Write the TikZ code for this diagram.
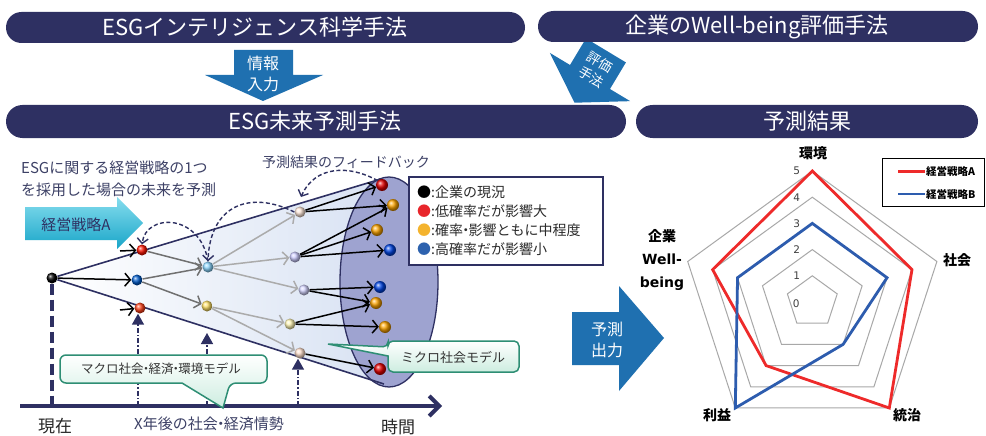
\documentclass[tikz,border=0pt]{standalone}
\usepackage{fontspec}
\setmainfont{Noto Sans CJK JP}
\newfontfamily\dejavu{DejaVu Sans}
\usetikzlibrary{arrows.meta}
\newcommand\fsz[2]{\fontsize{#1}{#2}\selectfont}
\newcommand\nakaten{\kern-.3em・\kern-.3em}
\definecolor{navy}{HTML}{2E3062}
\definecolor{arrblue}{HTML}{1F70B0}
\definecolor{txtnavy}{HTML}{3D4166}
\definecolor{ellfill}{HTML}{9EA3D0}
\definecolor{conefill}{HTML}{D8E2F3}
\definecolor{callgreen}{HTML}{2E8E74}
\definecolor{mint}{HTML}{CDEDE0}
\definecolor{cyantop}{HTML}{86DDEE}
\definecolor{cyanbot}{HTML}{18A5C8}
\definecolor{redA}{HTML}{EE2A2A}
\definecolor{blueB}{HTML}{2D5CAE}
\definecolor{gridgray}{HTML}{A8A8A8}
\definecolor{midgray}{HTML}{707070}
\definecolor{ltgray}{HTML}{ABABAB}
\definecolor{bred}{HTML}{E8262B}
\definecolor{byel}{HTML}{F4B32D}
\definecolor{bblue}{HTML}{2D62AE}
\definecolor{legtext}{HTML}{2A2A2A}
\begin{document}
\begin{tikzpicture}[x=1pt,y=-1pt,
  bar/.style={fill=navy, rounded corners=15.5pt, inner sep=0pt, minimum height=31pt},
  bartext/.style={text=white, font=\fsz{22}{26}, inner sep=0pt},
  arrtext/.style={text=white, font=\fsz{15}{16}, inner sep=0pt},
  ballnode/.style={circle, inner sep=0pt, minimum size=11pt, ball color=#1},
  bigball/.style={circle, inner sep=0pt, minimum size=12pt, ball color=#1},
  blk/.style={draw=black, line width=1.5pt, -{Straight Barb[length=5.5pt,width=13pt]}},
  dgr/.style={draw=midgray, line width=1.5pt, -{Straight Barb[length=5.5pt,width=13pt]}},
  lgr/.style={draw=ltgray, line width=1.5pt, -{Straight Barb[length=5.5pt,width=13pt]}},
  coneln/.style={draw=navy, line width=1.6pt},
  fb/.style={draw=navy, line width=1.4pt, dash pattern=on 4pt off 2.5pt, -{Straight Barb[length=5pt,width=11pt]}},
  axisln/.style={draw=navy, line width=4pt, -{Straight Barb[length=10pt,width=20pt]}},
  vdash/.style={draw=navy, line width=3.5pt, dash pattern=on 11pt off 5pt},
  uparr/.style={draw=navy, line width=1.5pt, dash pattern=on 5pt off 2pt on 1.5pt off 2pt, -{Triangle[length=11pt,width=12pt]}},
  callout/.style={draw=callgreen, line width=1.5pt, top color=white, bottom color=mint},
  gridline/.style={draw=gridgray, line width=1pt},
  radlab/.style={font=\bfseries\fsz{14}{16}, inner sep=0pt},
  ticklab/.style={font=\dejavu\fsz{10.5}{12}, text=black!75, inner sep=0pt}
]
\useasboundingbox (0,0) rectangle (986,436);
\fill[white] (0,0) rectangle (986,436);

% ---- rotated arrow (evaluation method)
\begin{scope}[shift={(590,77)}, rotate=-31]
  \fill[arrblue] (-23.3,-31)--(23.3,-31)--(23.3,0)--(46.9,0)--(0,30)--(-46.9,0)--(-23.3,0)--cycle;
  \node[arrtext, align=center, font=\fsz{13.5}{17}, transform shape] (evalt) at (1,-9.5) {評価\\手法};
\end{scope}

% ---- bars
\node[bar, minimum width=519pt] (bar1) at (265.5,27.5) {};
\node[bartext] (bar1t) at (255,27.5) {ESGインテリジェンス科学手法};
\node[bar, minimum width=440pt] (bar2) at (758,26.5) {};
\node[bartext] (bar2t) at (757,26.5) {企業のWell-being評価手法};
\node[bar, minimum width=620pt, minimum height=33pt, rounded corners=16.5pt] (bar3) at (316,121.5) {};
\node[bartext] (bar3t) at (315,121.5) {ESG未来予測手法};
\node[bar, minimum width=342pt, minimum height=33pt, rounded corners=16.5pt] (bar4) at (807,121.5) {};
\node[bartext] (bar4t) at (807,121.5) {予測結果};

% ---- down arrow (information input)
\fill[arrblue] (234,50)--(293,50)--(293,75)--(323,75)--(263,101)--(205,75)--(234,75)--cycle;
\node[arrtext, font=\fsz{16}{17}] (infoA) at (263,63) {情報};
\node[arrtext, font=\fsz{16}{17}] (infoB) at (263,84) {入力};

% ---- intro text
\node[anchor=west, align=left, text=txtnavy, font=\fsz{15}{22}, inner sep=0pt] (intro) at (21,179) {ESGに関する経営戦略の1つ\\を採用した場合の未来を予測};
\node[text=txtnavy, font=\fsz{14}{16}, inner sep=0pt] (fbtext) at (346,162) {予測結果のフィードバック};

% ---- strategy A arrow
\shade[top color=cyantop, bottom color=cyanbot] (25,207)--(117,207)--(117,197)--(143,223)--(117,249)--(117,240)--(25,240)--cycle;
\node[text=navy, font=\fsz{15}{16}, inner sep=0pt] (stratA) at (76,225) {経営戦略A};

% ---- cone and ellipse
\coordinate (coneTop) at (381,179);
\coordinate (coneBot) at (384,384);
\coordinate (apex) at (56,279);
\shade[left color=white, right color=conefill] (apex) -- (coneTop) -- (coneBot) -- cycle;
\draw[draw=navy, line width=1.3pt, fill=ellfill] (389,282) ellipse [x radius=49, y radius=105];

% ---- balls
\node[ballnode=black] (s0) at (52,278) {};
\draw[coneln] (s0) -- (coneTop);
\draw[coneln] (s0) -- (coneBot);

\node[ballnode={red!85!orange}] (a1) at (142,250) {};
\node[ballnode={blue!55!cyan!80!black}] (a2) at (137,280) {};
\node[ballnode={red!65!orange!90}] (a3) at (140,308) {};
\node[ballnode={blue!35!cyan!45!white}] (b1) at (208,267) {};
\node[ballnode={orange!40!yellow!60!white}] (b2) at (207,306) {};
\node[ballnode={red!20!orange!15!white}] (c1) at (300,212) {};
\node[ballnode={blue!20!white}] (c2) at (295,257) {};
\node[ballnode={blue!17!white}] (c3) at (304,290) {};
\node[ballnode={orange!25!yellow!30!white}] (c4) at (290,324) {};
\node[ballnode={red!25!orange!20!white}] (c5) at (300,353) {};
\node[bigball={red!90!black}] (d1) at (382,185) {};
\node[bigball={orange!70!yellow}] (d2) at (393,205) {};
\node[bigball={orange!70!yellow}] (d3) at (377,230) {};
\node[bigball={blue!70!cyan!90!black}] (d4) at (390,250) {};
\node[bigball={blue!70!cyan!90!black}] (d5) at (380,287) {};
\node[bigball={orange!70!yellow}] (d6) at (376,303) {};
\node[bigball={orange!70!yellow}] (d7) at (385,327) {};
\node[bigball={red!90!black}] (d8) at (380,369) {};

% ---- tree arrows
\coordinate (inA) at (120,251);
\coordinate (inC) at (120,310);
\draw[blk] (inA) -- (a1);
\draw[blk] (s0) -- (a2);
\draw[blk] (inC) -- (a3);
\draw[dgr] (a1) -- (b1);
\draw[dgr] (a2) -- (b1);
\draw[dgr] (a2) -- (b2);
\draw[lgr] (b1) -- (c1);
\draw[lgr] (b1) -- (c2);
\draw[lgr] (b1) -- (c3);
\draw[lgr] (b2) -- (c4);
\draw[lgr] (b2) -- (c5);
\draw[blk] (c1) -- (d1);
\draw[blk] (c1) -- (d2);
\draw[blk] (c2) -- (d2);
\draw[blk] (c2) -- (d3);
\draw[blk] (c2) -- (d4);
\draw[blk] (c3) -- (d5);
\draw[blk] (c3) -- (d6);
\draw[blk] (c4) -- (d6);
\draw[blk] (c4) -- (d7);
\draw[blk] (c5) -- (d8);

% ---- feedback curves
\coordinate (fbC) at (301,197);
\draw[fb] (b1.north) .. controls (200,213) and (146,213) .. (a1.north);
\draw[fb] (c1.west) .. controls (250,190) and (210,205) .. (b1.north);
\draw[fb] (d1.north west) .. controls (350,165) and (315,165) .. (fbC);

% ---- legend
\node[draw=navy, line width=1.3pt, fill=white, minimum width=194pt, minimum height=88pt, inner sep=0pt] (leg) at (506,221) {};
\node[anchor=west, font=\fsz{14}{16}, text=legtext, inner sep=0pt] (l1) at (417,192) {\textcolor{black}{●}:企業の現況};
\node[anchor=west, font=\fsz{14}{16}, text=legtext, inner sep=0pt] (l2) at (417,211) {\textcolor{bred}{●}:低確率だが影響大};
\node[anchor=west, font=\fsz{14}{16}, text=legtext, inner sep=0pt] (l3) at (417,230) {\textcolor{byel}{●}:確率\nakaten 影響ともに中程度};
\node[anchor=west, font=\fsz{14}{16}, text=legtext, inner sep=0pt] (l4) at (417,249) {\textcolor{bblue}{●}:高確率だが影響小};

% ---- time axis
\coordinate (ax0) at (20,406);
\coordinate (ax1) at (442,406);
\draw[vdash] (s0.south) -- (s0.south |- ax0);
\coordinate (m1) at (138,406);
\coordinate (m2) at (207,406);
\coordinate (m2top) at (207,333);
\coordinate (m3) at (298,406);
\draw[uparr] (m1) -- (m1 |- a3.south);
\draw[uparr] (m2) -- (m2top);
\draw[uparr] (m3) -- (m3 |- c5.south);
\draw[axisln] (ax0) -- (ax1);

% ---- callouts
\draw[callout] (182,383) [rounded corners=6pt] -- (60,383) -- (60,355) -- (267,355) -- (267,383) -- (230,383) [sharp corners] -- (223,408) -- cycle;
\node[font=\fsz{12.5}{14}, text=black!80, inner sep=0pt] (macro) at (161,369) {マクロ社会\nakaten 経済\nakaten 環境モデル};
\draw[callout] (388,356) [rounded corners=5pt] -- (388,372) -- (519,372) -- (519,341) -- (388,341) -- (388,347) [sharp corners] -- (328,344) -- cycle;
\node[font=\fsz{13}{14}, text=black!80, inner sep=0pt] (micro) at (453,357) {ミクロ社会モデル};

% ---- axis labels
\node[font=\fsz{17}{18}, text=black!85, inner sep=0pt] (now) at (55,426) {現在};
\node[font=\fsz{15}{16}, text=txtnavy, inner sep=0pt] (xyear) at (209,424) {X年後の社会\nakaten 経済情勢};
\node[font=\fsz{17}{18}, text=black!85, inner sep=0pt] (time) at (398,427) {時間};

% ---- prediction output arrow
\fill[arrblue] (572,312)--(619,312)--(619,286)--(664,338)--(619,391)--(619,365)--(572,365)--cycle;
\node[arrtext, font=\fsz{16}{17}] (outA) at (607,329) {予測};
\node[arrtext, font=\fsz{16}{17}] (outB) at (607,350) {出力};

% ---- radar chart
\begin{scope}[shift={(812.3,302)}, y=1pt]
  \foreach \k in {1,...,5}
    \draw[gridline] ({90}:{26.2*\k}) -- ({18}:{26.2*\k}) -- ({-54}:{26.2*\k}) -- ({-126}:{26.2*\k}) -- ({162}:{26.2*\k}) -- cycle;
  \foreach \k in {1,...,5}
    \node[ticklab] at (-15.5,{26.2*\k}) {\k};
  \node[ticklab] at (-16,-2) {0};
  \draw[redA, line width=2.8pt, line join=miter] ({90}:{131}) -- ({18}:{104.8}) -- ({-54}:{131}) -- ({-126}:{78.6}) -- ({162}:{104.8}) -- cycle;
  \draw[blueB, line width=2.8pt, line join=miter] ({90}:{78.6}) -- ({18}:{78.6}) -- ({-54}:{52.4}) -- ({-126}:{131}) -- ({162}:{78.6}) -- cycle;
\end{scope}
\node[radlab] (kankyo) at (813,153) {環境};
\node[radlab] (shakai) at (957,260) {社会};
\node[radlab] (touchi) at (907,415) {統治};
\node[radlab] (rieki) at (717,415) {利益};
\node[radlab, align=center, font=\bfseries\fsz{14}{23}] (wb) at (662,260) {企業\\{\dejavu Well-}\\{\dejavu being}};

% radar legend
\node[draw=black, line width=1pt, fill=white, minimum width=102pt, minimum height=48pt, inner sep=0pt] (rleg) at (933,182.3) {};
\coordinate (rlA0) at (898,171.7);
\coordinate (rlA1) at (925,171.7);
\coordinate (rlB0) at (898,194);
\coordinate (rlB1) at (925,194);
\draw[redA, line width=2.5pt] (rlA0) -- (rlA1);
\draw[blueB, line width=2.5pt] (rlB0) -- (rlB1);
\node[anchor=west, font=\bfseries\fsz{10.5}{12}, inner sep=0pt] (rlAt) at (926,171.7) {経営戦略A};
\node[anchor=west, font=\bfseries\fsz{10.5}{12}, inner sep=0pt] (rlBt) at (926,194) {経営戦略B};
\end{tikzpicture}
\end{document}
